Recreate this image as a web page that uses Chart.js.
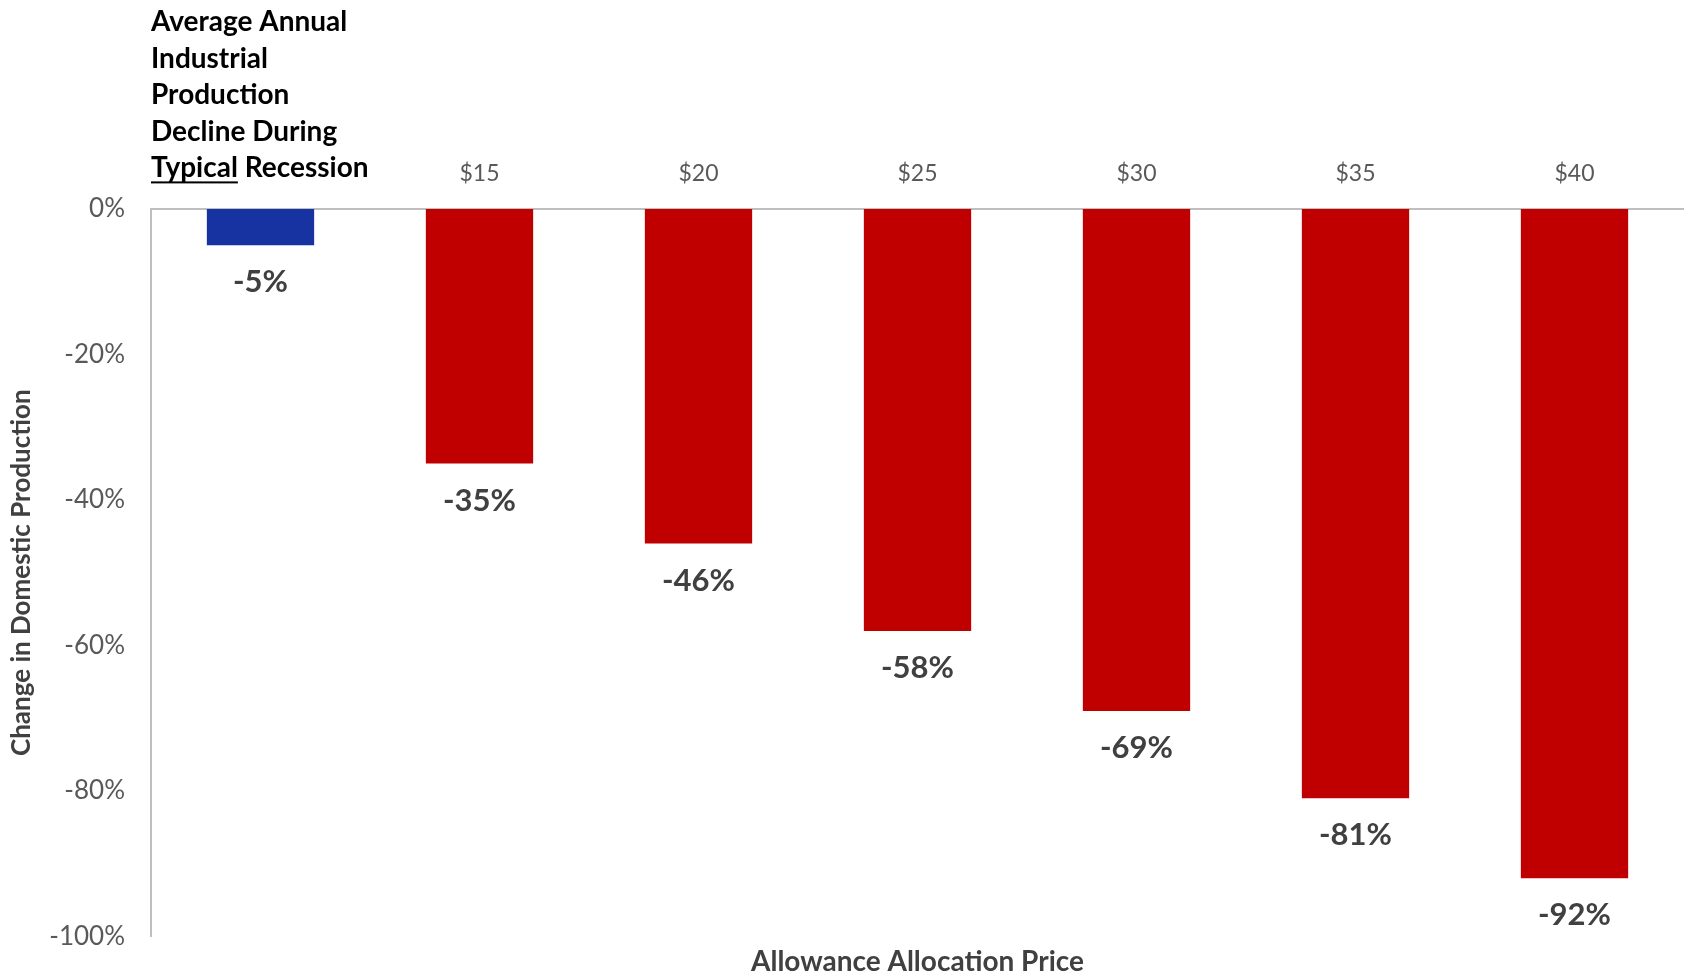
<!DOCTYPE html>
<html>
<head>
<meta charset="utf-8">
<script src="https://cdn.jsdelivr.net/npm/chart.js@4"></script>
<style>
  html, body { margin: 0; padding: 0; background: #fff; }
  canvas { display: block; }
</style>
</head>
<body>
<canvas id="myChart" width="1684" height="978"></canvas>
<script>
// categories along the top axis; the first one is the recession benchmark
const categories = ['Average Annual Industrial Production Decline During Typical Recession', '$15', '$20', '$25', '$30', '$35', '$40'];
const recessionLines = ['Average Annual', 'Industrial', 'Production', 'Decline During', 'Typical Recession'];
const changeValues = [-5, -35, -46, -58, -69, -81, -92];
const barColors = ['#1733A1', '#C00000', '#C00000', '#C00000', '#C00000', '#C00000', '#C00000'];
const yTicks = [0, -20, -40, -60, -80, -100];
const xTitle = 'Allowance Allocation Price';

const FONT = 'Lato, "Open Sans", sans-serif';

// value labels under the end of each bar
var valueLabels = {
  id: 'valueLabels',
  afterDatasetsDraw(chart) {
    const ctx = chart.ctx;
    const meta = chart.getDatasetMeta(0);
    ctx.save();
    ctx.font = 'bold 31px ' + FONT;
    ctx.fillStyle = '#404040';
    ctx.textAlign = 'center';
    ctx.textBaseline = 'middle';
    meta.data.forEach(function (bar, i) {
      ctx.fillText(changeValues[i] + '%', bar.x, bar.y + 37);
    });
    ctx.restore();
  }
};

// wrapped, left aligned label for the first category with "Typical" underlined,
// plus the axis title below the plot, centred on the plot area
var extraText = {
  id: 'extraText',
  afterDraw(chart) {
    const ctx = chart.ctx;
    const area = chart.chartArea;
    ctx.save();
    ctx.font = 'bold 28px ' + FONT;
    ctx.fillStyle = '#000';
    ctx.textAlign = 'left';
    ctx.textBaseline = 'middle';
    recessionLines.forEach(function (line, i) {
      ctx.fillText(line, area.left, 22 + i * 36.6);
    });
    const w = ctx.measureText('Typical').width;
    const y = 22 + 4 * 36.6 + 13;
    ctx.fillRect(area.left, y, w, 2);

    ctx.font = 'bold 28px ' + FONT;
    ctx.fillStyle = '#404040';
    ctx.textAlign = 'center';
    ctx.fillText(xTitle, (area.left + area.right) / 2, 962);
    ctx.restore();
  }
};

var canvas = document.getElementById('myChart').getContext('2d');
var data = {
  labels: categories,
  datasets: [{
    data: changeValues,
    backgroundColor: barColors,
    borderWidth: 0,
    barPercentage: 0.49,
    categoryPercentage: 1.0,
  }],
};

var option = {
  responsive: false,
  animation: false,
  devicePixelRatio: 1,
  layout: { padding: { left: 0, right: 0, top: 0, bottom: 38 } },
  plugins: {
    legend: { display: false },
    tooltip: { enabled: false },
  },
  scales: {
    x: {
      position: 'top',
      grid: { display: false, drawTicks: false },
      border: { display: true, color: '#BFBFBF', width: 2 },
      ticks: {
        color: '#595959',
        font: { family: FONT, size: 23 },
        padding: 22,
        maxRotation: 0,
        autoSkip: false,
        callback: function (v, i) { return i === 0 ? '' : categories[i]; },
      },
      afterFit: function (axis) { axis.height = 209; },
    },
    y: {
      min: -100,
      max: 0,
      afterBuildTicks: function (axis) { axis.ticks = yTicks.map(function (v) { return { value: v }; }); },
      grid: { display: false, drawTicks: false },
      border: { display: true, color: '#BFBFBF', width: 2 },
      ticks: {
        color: '#595959',
        font: { family: FONT, size: 26 },
        padding: 26,
        callback: function (v) { return v + '%'; },
      },
      title: {
        display: true,
        text: 'Change in Domestic Production',
        color: '#404040',
        font: { family: FONT, size: 26, weight: 'bold' },
        padding: { top: 6, bottom: 0 },
      },
      afterFit: function (axis) { axis.width = 151; },
    },
  },
};

var myBarChart = new Chart(canvas, { type: 'bar', data: data, options: option, plugins: [valueLabels, extraText] });
</script>
</body>
</html>
